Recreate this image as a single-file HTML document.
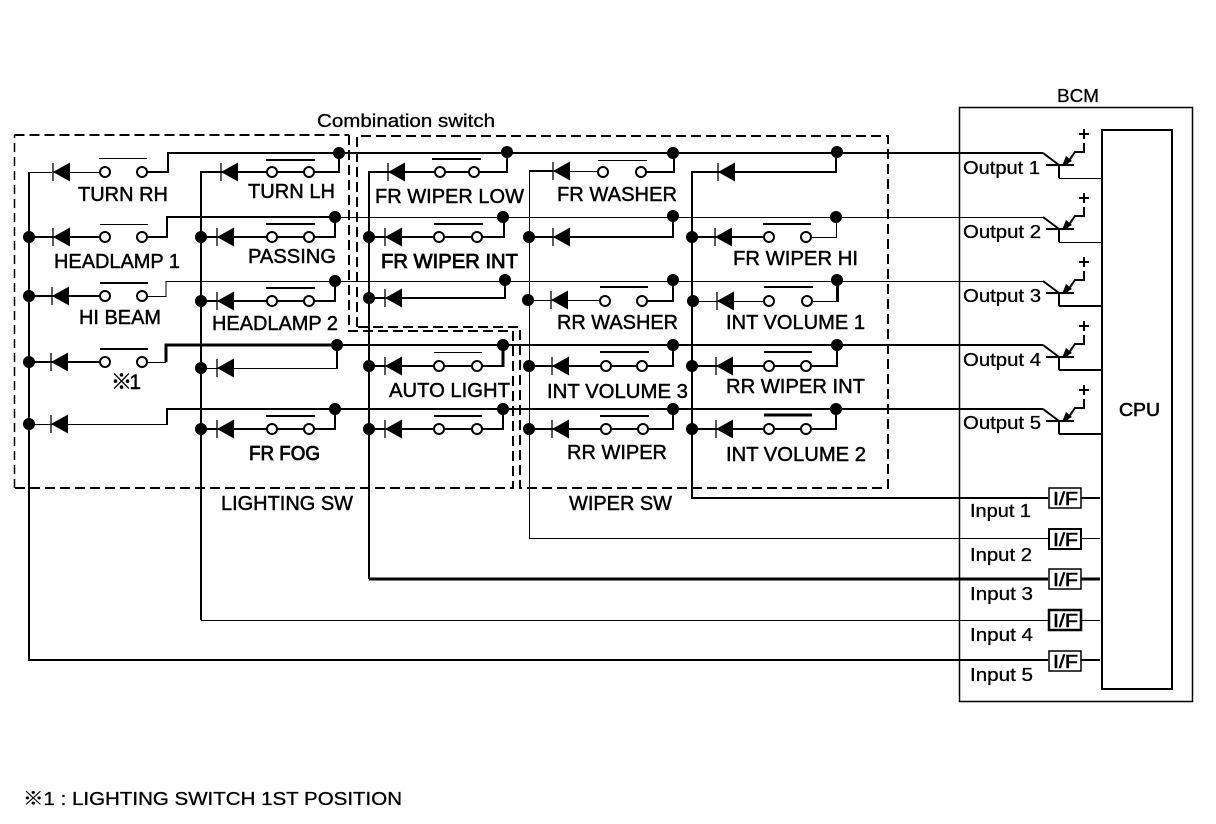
<!DOCTYPE html>
<html>
<head>
<meta charset="utf-8">
<style>
html,body{margin:0;padding:0;background:#fff;width:1216px;height:824px;overflow:hidden}
svg{display:block}
text{font-family:"Liberation Sans","Noto Sans CJK JP",sans-serif;font-size:20px;fill:#000;stroke:#000;stroke-width:.45}
.s{font-size:18.5px;stroke-width:.3}
.b{font-size:18px;stroke-width:.6}
.t{fill:none;stroke:#000;stroke-width:1}
.k{fill:none;stroke:#000;stroke-width:3}
.m{fill:none;stroke:#000;stroke-width:2}
.dash{fill:none;stroke:#000;stroke-width:2;stroke-dasharray:10 5}
.dasht{fill:none;stroke:#000;stroke-width:1.500;stroke-dasharray:9 5}
</style>
</head>
<body>
<svg width="1216" height="824" viewBox="0 0 1216 824" xmlns="http://www.w3.org/2000/svg">
<defs>
<g id="d"><polygon points="0,0 17,-9.500 17,9.500" fill="#000"/><path d="M0 -9V9" stroke="#000" stroke-width="1.300" fill="none"/></g>
<circle id="c" r="5" fill="#fff" stroke="#000" stroke-width="2"/>
<circle id="o" r="6" fill="#000"/>
<g id="q">
<path d="M1043 0L1059 12M1046 12H1074M1059 12V25" stroke="#000" stroke-width="2" fill="none"/>
<path d="M1066 12L1075 -1H1084V-10" stroke="#000" stroke-width="2" fill="none"/>
<polygon points="1062,13 1066,3 1072,8" fill="#000"/>
<path d="M1079 -19H1089M1084 -24V-14" stroke="#000" stroke-width="2" fill="none"/>
</g>
</defs>

<!-- dashed enclosures -->
<path class="dasht" d="M14.500 488V135"/>
<path class="dash" d="M14.500 135H349"/>
<path class="dash" d="M349 135V331H513V488H14.500"/>
<path class="dash" d="M357 327V136H888V488H520V327H357"/>

<!-- horizontal supply lines -->
<path class="m" d="M142 172H168V153H1043"/>
<path class="m" d="M142 237H167V217H336"/>
<path class="t" d="M336 217.500H1043"/>
<path class="t" d="M142 296.500H166V281.500H1043"/>
<path class="t" d="M142 362.500H166"/>
<path class="k" d="M166 362V345H337"/>
<path class="m" d="M337 345H1043"/>
<path class="t" d="M60 424.500H167"/>
<path class="m" d="M167 425V409H1043"/>

<!-- buses to BCM -->
<path class="t" d="M52 172.500H29.500"/>
<path class="m" d="M29 172V660H1048"/>
<path class="m" d="M221 172H201V620"/>
<path class="t" d="M201 620.500H1048"/>
<path class="m" d="M388 172H369V579"/>
<path class="k" d="M369 579H1048"/>
<path class="m" d="M553 171H529"/>
<path class="t" d="M529.500 171V538.500H1048"/>
<path class="m" d="M718 172H692V498H1048"/>

<!-- column 1 -->
<path class="t" d="M53 172.500H105"/>
<path class="m" d="M29 237H105"/>
<path class="m" d="M29 296H105"/>
<path class="m" d="M29 362H105"/>
<path class="t" d="M29 424.500H60"/>
<use href="#d" x="53" y="172"/><use href="#d" x="53" y="237"/><use href="#d" x="52" y="296"/><use href="#d" x="51" y="362"/><use href="#d" x="51" y="424"/>
<use href="#c" x="105" y="172"/><use href="#c" x="142" y="172"/>
<use href="#c" x="105" y="237"/><use href="#c" x="142" y="237"/>
<use href="#c" x="105" y="296"/><use href="#c" x="142" y="296"/>
<use href="#c" x="105" y="362"/><use href="#c" x="142" y="362"/>
<path class="t" d="M99 158.500H147M100 224.500H148"/>
<path class="m" d="M100 283H148M100 349H148"/>
<use href="#o" x="29" y="237"/><use href="#o" x="29" y="296"/><use href="#o" x="29" y="362"/><use href="#o" x="29" y="424"/>

<!-- column 2 -->
<path class="m" d="M221 172H309M309 172H339V153"/>
<path class="m" d="M201 237H309H335V217"/>
<path class="m" d="M201 301H309H335V281"/>
<path class="t" d="M201 368.500H337"/>
<path class="m" d="M337 369V345"/>
<path class="m" d="M201 429H335V409"/>
<use href="#d" x="221" y="172"/><use href="#d" x="217" y="237"/><use href="#d" x="217" y="301"/><use href="#d" x="217" y="368"/><use href="#d" x="217" y="429"/>
<use href="#c" x="272" y="172"/><use href="#c" x="309" y="172"/>
<use href="#c" x="272" y="237"/><use href="#c" x="309" y="237"/>
<use href="#c" x="272" y="301"/><use href="#c" x="309" y="301"/>
<use href="#c" x="272" y="429"/><use href="#c" x="309" y="429"/>
<path class="m" d="M266 160H315M266 224H315M266 288H315M266 416H315"/>
<use href="#o" x="339" y="153"/><use href="#o" x="335" y="217"/><use href="#o" x="335" y="281"/><use href="#o" x="337" y="345"/><use href="#o" x="335" y="409"/>
<use href="#o" x="201" y="237"/><use href="#o" x="201" y="301"/><use href="#o" x="201" y="368"/><use href="#o" x="201" y="429"/>

<!-- column 3 -->
<path class="m" d="M388 172H507V153"/>
<path class="m" d="M369 237H504V217"/>
<path class="m" d="M369 298H505V280"/>
<path class="m" d="M369 366H503"/>
<path class="k" d="M503 367V345"/>
<path class="m" d="M369 429H503V409"/>
<use href="#d" x="388" y="172"/><use href="#d" x="385" y="237"/><use href="#d" x="385" y="298"/><use href="#d" x="385" y="366"/><use href="#d" x="385" y="429"/>
<use href="#c" x="440" y="172"/><use href="#c" x="474" y="172"/>
<use href="#c" x="439" y="237"/><use href="#c" x="477" y="237"/>
<use href="#c" x="439" y="366"/><use href="#c" x="477" y="366"/>
<use href="#c" x="439" y="429"/><use href="#c" x="477" y="429"/>
<path class="m" d="M432 159H481M434 224H483M434 416H482"/>
<path class="t" d="M434 352.500H482"/>
<use href="#o" x="507" y="152"/><use href="#o" x="503" y="217"/><use href="#o" x="505" y="280"/><use href="#o" x="503" y="345"/><use href="#o" x="503" y="409"/>
<use href="#o" x="369" y="237"/><use href="#o" x="369" y="298"/><use href="#o" x="369" y="366"/><use href="#o" x="369" y="429"/>

<!-- column 4 -->
<path class="t" d="M553 171.500H603"/>
<path class="m" d="M641 172H674V153"/>
<path class="m" d="M529 237H673V216"/>
<path class="t" d="M529 300.500H605"/>
<path class="m" d="M642 301H673V280"/>
<path class="m" d="M529 366H673V345"/>
<path class="m" d="M529 429H673V409"/>
<use href="#d" x="553" y="171"/><use href="#d" x="553" y="237"/><use href="#d" x="551" y="300"/><use href="#d" x="552" y="366"/><use href="#d" x="552" y="429"/>
<use href="#c" x="603" y="172"/><use href="#c" x="641" y="172"/>
<use href="#c" x="605" y="301"/><use href="#c" x="642" y="301"/>
<use href="#c" x="606" y="366"/><use href="#c" x="642" y="366"/>
<use href="#c" x="606" y="429"/><use href="#c" x="643" y="429"/>
<path class="t" d="M598 160.500H647"/>
<path class="m" d="M600 287H648M600 352H649M600 416H649"/>
<use href="#o" x="673" y="153"/><use href="#o" x="673" y="216"/><use href="#o" x="673" y="280"/><use href="#o" x="673" y="345"/><use href="#o" x="673" y="409"/>
<use href="#o" x="529" y="237"/><use href="#o" x="528" y="300"/><use href="#o" x="529" y="366"/><use href="#o" x="529" y="429"/>

<!-- column 5 -->
<path class="m" d="M718 172H836V152"/>
<path class="m" d="M692 237H769"/>
<path class="t" d="M806 237.500H836.500V217"/>
<path class="t" d="M692 301.500H769M807 301.500H837"/>
<path class="k" d="M837.500 302V280"/>
<path class="m" d="M692 366H837V345"/>
<path class="m" d="M692 429H836V409"/>
<use href="#d" x="718" y="172"/><use href="#d" x="715" y="237"/><use href="#d" x="717" y="301"/><use href="#d" x="716" y="366"/><use href="#d" x="716" y="429"/>
<use href="#c" x="769" y="237"/><use href="#c" x="806" y="237"/>
<use href="#c" x="769" y="301"/><use href="#c" x="807" y="301"/>
<use href="#c" x="769" y="366"/><use href="#c" x="806" y="366"/>
<use href="#c" x="769" y="429"/><use href="#c" x="806" y="429"/>
<path class="m" d="M763 224H811M764 287H813M764 352H812"/>
<path class="k" d="M764 415H812"/>
<use href="#o" x="837" y="152"/><use href="#o" x="836" y="217"/><use href="#o" x="837" y="280"/><use href="#o" x="837" y="345"/><use href="#o" x="836" y="409"/>
<use href="#o" x="692" y="237"/><use href="#o" x="693" y="301"/><use href="#o" x="692" y="366"/><use href="#o" x="692" y="429"/>

<!-- BCM -->
<rect x="959.500" y="107.500" width="233" height="594" class="t" style="stroke-width:1.500"/>
<rect x="1102" y="130" width="70" height="559" class="m"/>

<use href="#q" x="0" y="153"/>
<use href="#q" x="0" y="217"/>
<use href="#q" x="0" y="281"/>
<use href="#q" x="0" y="345"/>
<use href="#q" x="0" y="409"/>
<path class="t" d="M1059 178.500H1102M1059 242.500H1102"/>
<path class="m" d="M1059 306H1102M1059 370H1102M1059 434H1102"/>

<!-- I/F boxes -->
<path class="m" d="M1081 498H1100"/>
<path class="t" d="M1081 538.500H1100"/>
<path class="k" d="M1081 579H1100"/>
<path class="t" d="M1081 620.500H1100"/>
<path class="m" d="M1081 660H1100"/>
<rect x="1049" y="488" width="32" height="20" fill="#fff" stroke="#000" stroke-width="1.500"/>
<rect x="1049" y="529" width="32" height="20" fill="#fff" stroke="#000" stroke-width="2"/>
<rect x="1049" y="569" width="32" height="20" fill="#fff" stroke="#000" stroke-width="1.500"/>
<rect x="1049" y="610" width="32" height="20" fill="#fff" stroke="#000" stroke-width="2.500"/>
<rect x="1049" y="651" width="32" height="20" fill="#fff" stroke="#000" stroke-width="1.500"/>
<text class="b" x="1053" y="505" textLength="25" lengthAdjust="spacingAndGlyphs">I/F</text>
<text class="b" x="1053" y="546" textLength="25" lengthAdjust="spacingAndGlyphs">I/F</text>
<text class="b" x="1053" y="586" textLength="25" lengthAdjust="spacingAndGlyphs">I/F</text>
<text class="b" x="1053" y="627" textLength="25" lengthAdjust="spacingAndGlyphs">I/F</text>
<text class="b" x="1053" y="668" textLength="25" lengthAdjust="spacingAndGlyphs">I/F</text>

<!-- labels -->
<text class="s" x="317" y="127" textLength="178" lengthAdjust="spacingAndGlyphs">Combination switch</text>
<text x="78" y="201" textLength="90" lengthAdjust="spacingAndGlyphs">TURN RH</text>
<text x="248" y="198" textLength="87" lengthAdjust="spacingAndGlyphs">TURN LH</text>
<text x="54" y="268" textLength="126" lengthAdjust="spacingAndGlyphs">HEADLAMP 1</text>
<text x="248" y="263" textLength="88" lengthAdjust="spacingAndGlyphs">PASSING</text>
<text x="79" y="324" textLength="82" lengthAdjust="spacingAndGlyphs">HI BEAM</text>
<text x="212" y="330" textLength="126" lengthAdjust="spacingAndGlyphs">HEADLAMP 2</text>
<text x="111" y="389" textLength="30" lengthAdjust="spacing" style="font-size:21px">※ 1</text>
<text x="249" y="460" textLength="71" lengthAdjust="spacingAndGlyphs" style="stroke-width:.8">FR FOG</text>
<text x="221" y="510" textLength="132" lengthAdjust="spacingAndGlyphs">LIGHTING SW</text>
<text x="375" y="203" textLength="149" lengthAdjust="spacingAndGlyphs">FR WIPER LOW</text>
<text x="381" y="268" textLength="137" lengthAdjust="spacingAndGlyphs" style="stroke-width:.8">FR WIPER INT</text>
<text x="557" y="201" textLength="120" lengthAdjust="spacingAndGlyphs">FR WASHER</text>
<text x="557" y="329" textLength="121" lengthAdjust="spacingAndGlyphs">RR WASHER</text>
<text x="389" y="397" textLength="121" lengthAdjust="spacingAndGlyphs">AUTO LIGHT</text>
<text x="547" y="398" textLength="141" lengthAdjust="spacingAndGlyphs">INT VOLUME 3</text>
<text x="733" y="265" textLength="125" lengthAdjust="spacingAndGlyphs">FR WIPER HI</text>
<text x="726" y="329" textLength="139" lengthAdjust="spacingAndGlyphs">INT VOLUME 1</text>
<text x="726" y="393" textLength="139" lengthAdjust="spacingAndGlyphs">RR WIPER INT</text>
<text x="567" y="459" textLength="100" lengthAdjust="spacingAndGlyphs">RR WIPER</text>
<text x="726" y="461" textLength="140" lengthAdjust="spacingAndGlyphs">INT VOLUME 2</text>
<text x="569" y="510" textLength="103" lengthAdjust="spacingAndGlyphs">WIPER SW</text>
<text class="s" x="1057" y="102" textLength="42" lengthAdjust="spacingAndGlyphs">BCM</text>
<text class="s" x="963" y="174" textLength="77" lengthAdjust="spacingAndGlyphs">Output 1</text>
<text class="s" x="963" y="238" textLength="78" lengthAdjust="spacingAndGlyphs">Output 2</text>
<text class="s" x="963" y="302" textLength="78" lengthAdjust="spacingAndGlyphs">Output 3</text>
<text class="s" x="963" y="366" textLength="78" lengthAdjust="spacingAndGlyphs">Output 4</text>
<text class="s" x="963" y="429" textLength="78" lengthAdjust="spacingAndGlyphs">Output 5</text>
<text class="s" x="970" y="517" textLength="61" lengthAdjust="spacingAndGlyphs">Input 1</text>
<text class="s" x="970" y="561" textLength="62" lengthAdjust="spacingAndGlyphs">Input 2</text>
<text class="s" x="970" y="600" textLength="63" lengthAdjust="spacingAndGlyphs">Input 3</text>
<text class="s" x="970" y="641" textLength="63" lengthAdjust="spacingAndGlyphs">Input 4</text>
<text class="s" x="970" y="681" textLength="63" lengthAdjust="spacingAndGlyphs">Input 5</text>
<text class="s" x="1119" y="416" textLength="41" lengthAdjust="spacingAndGlyphs" style="stroke-width:.6">CPU</text>
<text class="s" x="23" y="805" textLength="379" lengthAdjust="spacingAndGlyphs">※1 : LIGHTING SWITCH 1ST POSITION</text>
</svg>
</body>
</html>
